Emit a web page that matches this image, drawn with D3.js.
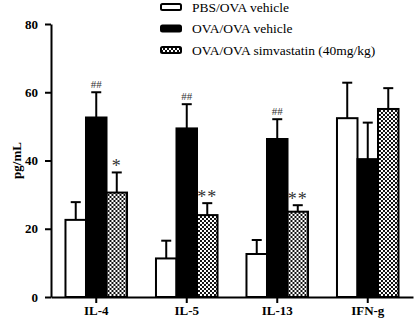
<!DOCTYPE html>
<html>
<head>
<meta charset="utf-8">
<script src="https://cdn.jsdelivr.net/npm/d3@7"></script>
<style>
  body { margin: 0; background: #fff; }
  svg { display: block; }
</style>
</head>
<body>
<div id="chart"></div>
<script>
// data
const categories = ["IL-4", "IL-5", "IL-13", "IFN-g"];
const seriesNames = ["PBS/OVA vehicle", "OVA/OVA vehicle", "OVA/OVA simvastatin (40mg/kg)"];
const pbsMeans = [22.6, 11.3, 12.6, 52.4];
const pbsErr = [5.2, 5.2, 4.1, 10.4];
const ovaMeans = [52.6, 49.4, 46.3, 40.4];
const ovaErr = [7.4, 7.1, 5.8, 10.7];
const simvaMeans = [30.6, 24.0, 25.0, 55.1];
const simvaErr = [5.9, 3.5, 1.9, 6.1];
const ovaMarks = ["##", "##", "##", ""];
const simvaMarks = ["*", "**", "**", ""];
const yTicks = [0, 20, 40, 60, 80];

const width = 417, height = 323;
const margin = { top: 24, right: 4, bottom: 26, left: 51 };

const svg = d3.select("#chart").append("svg")
    .attr("width", width)
    .attr("height", height);

// checker fill for the simvastatin bars
const defs = svg.append("defs");
const pat = defs.append("pattern")
    .attr("id", "checker")
    .attr("patternUnits", "userSpaceOnUse")
    .attr("width", 4).attr("height", 4);
pat.append("rect").attr("width", 4).attr("height", 4).attr("fill", "#fff");
pat.append("rect").attr("width", 2).attr("height", 2).attr("fill", "#111");
pat.append("rect").attr("x", 2).attr("y", 2).attr("width", 2).attr("height", 2).attr("fill", "#111");

const fills = ["#fff", "#000", "url(#checker)"];

const x0 = d3.scaleBand()
    .domain(categories)
    .range([margin.left, width - margin.right])
    .paddingInner(0.32)
    .paddingOuter(0.16);

const x1 = d3.scaleBand()
    .domain(d3.range(3))
    .range([0, x0.bandwidth()]);

const y = d3.scaleLinear()
    .domain([0, 80])
    .range([height - margin.bottom, margin.top]);

const rows = categories.map((c, i) => ({
  cat: c,
  vals: [
    { s: 0, mean: pbsMeans[i], err: pbsErr[i], mark: "" },
    { s: 1, mean: ovaMeans[i], err: ovaErr[i], mark: ovaMarks[i] },
    { s: 2, mean: simvaMeans[i], err: simvaErr[i], mark: simvaMarks[i] }
  ]
}));

const groups = svg.selectAll(".grp")
    .data(rows)
    .enter().append("g")
    .attr("class", "grp")
    .attr("transform", d => "translate(" + x0(d.cat) + ",0)");

const bars = groups.selectAll(".bar")
    .data(d => d.vals)
    .enter().append("g")
    .attr("class", "bar");

// error bars (upper only)
bars.append("line")
    .attr("x1", d => x1(d.s) + x1.bandwidth() / 2)
    .attr("x2", d => x1(d.s) + x1.bandwidth() / 2)
    .attr("y1", d => y(d.mean))
    .attr("y2", d => y(d.mean + d.err))
    .attr("stroke", "#000").attr("stroke-width", 2);
bars.append("line")
    .attr("x1", d => x1(d.s) + x1.bandwidth() / 2 - 5)
    .attr("x2", d => x1(d.s) + x1.bandwidth() / 2 + 5)
    .attr("y1", d => y(d.mean + d.err))
    .attr("y2", d => y(d.mean + d.err))
    .attr("stroke", "#000").attr("stroke-width", 2);

bars.append("rect")
    .attr("x", d => x1(d.s))
    .attr("y", d => y(d.mean))
    .attr("width", x1.bandwidth())
    .attr("height", d => y(0) - y(d.mean))
    .attr("fill", d => fills[d.s])
    .attr("stroke", "#000")
    .attr("stroke-width", 2);

// significance marks
bars.filter(d => d.mark !== "")
    .append("text")
    .attr("x", d => x1(d.s) + x1.bandwidth() / 2)
    .attr("y", d => y(d.mean + d.err) - (d.mark[0] === "#" ? 4 : 0))
    .attr("text-anchor", "middle")
    .attr("font-family", "Liberation Serif, serif")
    .attr("font-size", d => d.mark[0] === "#" ? "11px" : "18px")
    .attr("letter-spacing", d => d.mark[0] === "*" ? "1px" : "0px")
    .attr("fill", "#333")
    .text(d => d.mark);

// axes
const xAxis = svg.append("g")
    .attr("transform", "translate(0," + y(0) + ")")
    .call(d3.axisBottom(x0).tickSize(6).tickSizeOuter(0));
const yAxis = svg.append("g")
    .attr("transform", "translate(" + margin.left + ",0)")
    .call(d3.axisLeft(y).tickValues(yTicks).tickSize(6).tickSizeOuter(0));

[xAxis, yAxis].forEach(a => {
  a.selectAll("path, line").attr("stroke", "#000").attr("stroke-width", 2);
  a.selectAll("text")
      .attr("fill", "#000")
      .attr("font-family", "Liberation Serif, serif")
      .attr("font-weight", "bold")
      .attr("font-size", "13px");
});
yAxis.selectAll("text").attr("dx", "-0.3em");

svg.append("text")
    .attr("transform", "translate(21," + (y(40)) + ") rotate(-90)")
    .attr("text-anchor", "middle")
    .attr("font-family", "Liberation Serif, serif")
    .attr("font-weight", "bold")
    .attr("font-size", "13px")
    .text("pg/mL");

// legend
const legend = svg.append("g")
    .attr("transform", "translate(161,0)");
const item = legend.selectAll(".item")
    .data(seriesNames)
    .enter().append("g")
    .attr("class", "item")
    .attr("transform", (d, i) => "translate(0," + (7 + i * 21.5) + ")");
item.append("rect")
    .attr("x", 0).attr("y", -3)
    .attr("width", 20).attr("height", 6)
    .attr("rx", 1.5)
    .attr("fill", (d, i) => fills[i])
    .attr("stroke", "#000").attr("stroke-width", 2);
item.append("text")
    .attr("x", 31).attr("y", 0)
    .attr("dy", "0.35em")
    .attr("font-family", "Liberation Serif, serif")
    .attr("font-size", "13.5px")
    .text(d => d);
</script>
</body>
</html>
